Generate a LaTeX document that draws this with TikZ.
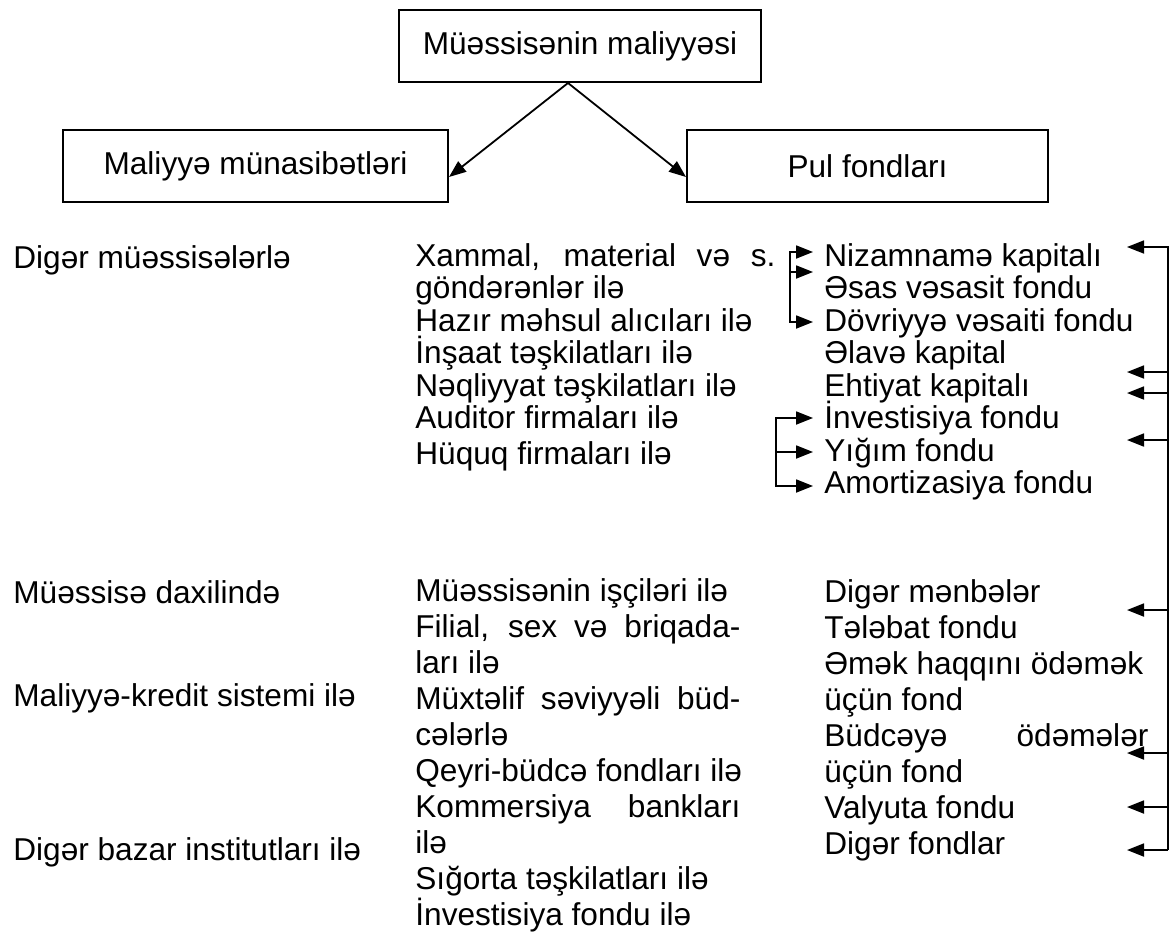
\documentclass[tikz,border=0pt]{standalone}
\usepackage{fontspec}
\setmainfont{Liberation Sans}
\usetikzlibrary{arrows.meta}
\newcommand{\jline}[2]{\makebox[#1][s]{#2}}

\begin{document}
\begin{tikzpicture}[x=0.5pt,y=-0.5pt,
    box/.style = {draw, line width=1pt, minimum height=36pt, inner sep=0pt},
    txt/.style = {anchor=base west, inner sep=0pt},
    arr/.style = {-{Triangle[length=8.5pt,width=6.5pt]}, line width=0.9pt},
    font=\fontsize{15.8}{19}\selectfont]
    \useasboundingbox (0,0) rectangle (1171,931);

    \node at (580,46)    [box,minimum width=181pt]   (fin)  {Müəssisənin maliyyəsi};
    \node at (255.5,166) [box,minimum width=192.5pt] (rel)  {Maliyyə münasibətləri};
    \node at (867.5,166) [box,minimum width=180.5pt] (fund) {Pul fondları};
    \draw[arr] ([xshift=-6pt]fin.south) -- ([yshift=-5.5pt]rel.east);
    \draw[arr] ([xshift=-6pt]fin.south) -- ([yshift=-5.5pt]fund.west);

    % left column
    \node at (13,268) [txt] (other)  {Digər müəssisələrlə};
    \node at (13,603) [txt] (inside) {Müəssisə daxilində};
    \node at (13,706) [txt] (credit) {Maliyyə-kredit sistemi ilə};
    \node at (13,860) [txt] (market) {Digər bazar institutları ilə};

    % middle column
    \foreach \t [count=\i from 0] in {\jline{180pt}{Xammal, material və s.}, göndərənlər ilə,
        Hazır məhsul alıcıları ilə, İnşaat təşkilatları ilə, Nəqliyyat təşkilatları ilə,
        Auditor firmaları ilə}
        \node at (415,266+32.5*\i) [txt] (mt\i) {\t};
    \node at (415,464) [txt] (mt6) {Hüquq firmaları ilə};
    \foreach \t [count=\i from 0] in {Müəssisənin işçiləri ilə, \jline{162.5pt}{Filial, sex və briqada-},
        ları ilə, \jline{162.5pt}{Müxtəlif səviyyəli büd-}, cələrlə, Qeyri-büdcə fondları ilə,
        \jline{162.5pt}{Kommersiya bankları}, ilə, Sığorta təşkilatları ilə, İnvestisiya fondu ilə}
        \node at (415,601+36*\i) [txt] (mb\i) {\t};

    % right column
    \foreach \t [count=\i from 0] in {Nizamnamə kapitalı, Əsas vəsasit fondu, Dövriyyə vəsaiti fondu,
        Əlavə kapital, Ehtiyat kapitalı, İnvestisiya fondu, Yığım fondu, Amortizasiya fondu}
        \node at (824,266+32.5*\i) [txt] (rt\i) {\t};
    \foreach \t [count=\i from 0] in {Digər mənbələr, Tələbat fondu, Əmək haqqını ödəmək, üçün fond,
        \jline{162pt}{Büdcəyə ödəmələr}, üçün fond, Valyuta fondu, Digər fondlar}
        \node at (824,602+36*\i) [txt] (rb\i) {\t};

    % brackets
    \coordinate (br1) at (790,272);
    \draw[arr] (br1) |- (813,252);
    \draw[arr] (br1) -- (813,272);
    \draw[arr] (br1) |- (813,322);
    \coordinate (br2) at (776,452);
    \draw[arr] (br2) |- (813,418);
    \draw[arr] (br2) -- (813,452);
    \draw[arr] (br2) |- (813,486);

    % bus on the right
    \coordinate (bus1) at (1168,247);
    \coordinate (bus2) at (1168,850);
    \draw[arr] (bus2) -- (bus1) -- +(-41,0);
    \draw[arr] (bus2) -- +(-41,0);
    \foreach \y in {372,393,440,610,753,807}
        \draw[arr] (1168,\y) -- +(-41,0);
\end{tikzpicture}
\end{document}
